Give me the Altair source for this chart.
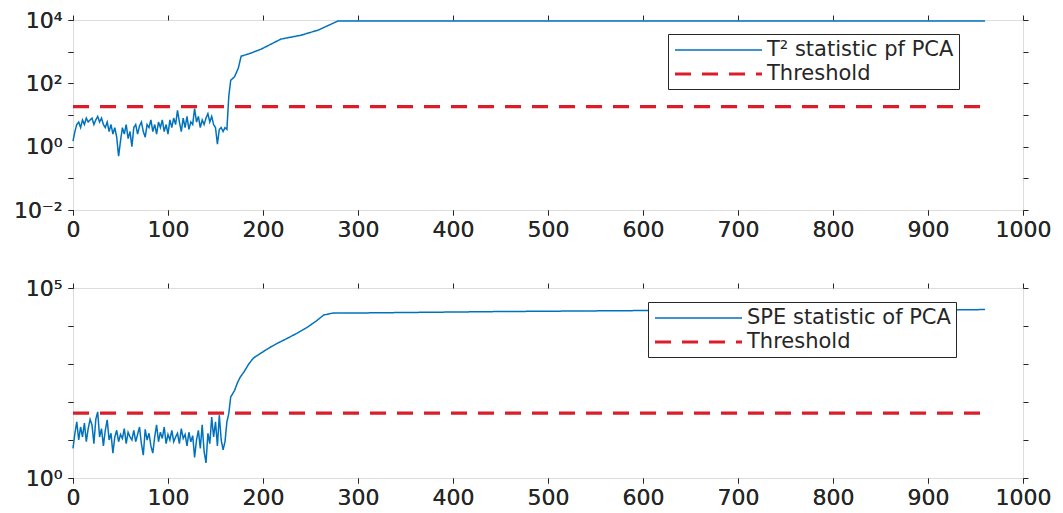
import altair as alt
import pandas as pd

# ---------------- data ----------------
noise_x = list(range(0, 164, 2))

t2_noise = [1.5, 3, 5, 6, 4, 7, 5, 8, 6, 7,
            8, 5, 7, 9, 6, 8, 5, 4, 6, 3,
            5, 2.5, 4, 2, 0.5, 1.5, 4, 2.5, 5, 1.8,
            3, 1, 4, 5, 2.5, 4.5, 6, 3, 2, 5,
            4, 7, 3, 5, 2.5, 6, 4, 7, 3, 5,
            2.5, 7, 4, 8, 5, 14, 6, 3, 8, 4,
            9, 3.5, 6, 5, 16, 6, 9, 4, 7, 5,
            8, 11, 6, 9, 5, 4, 1.2, 3.5, 4, 3,
            4, 3.5]
t2_tail_x = [164, 166, 170, 174, 177, 185, 198, 219, 240, 258, 279, 960]
t2_tail_y = [39, 125, 160, 300, 720, 850, 1200, 2500, 3300, 4800, 9300, 9300]
t2_threshold = 18.5

spe_noise = [6, 15, 30, 10, 22, 12, 28, 9, 20, 35,
             25, 8, 35, 55, 12, 20, 7, 18, 34, 10,
             15, 4.5, 12, 18, 9, 14, 11, 20, 8, 16,
             12, 10, 18, 9, 14, 22, 8, 4, 19, 10,
             15, 7, 4.5, 12, 25, 9, 16, 11, 22, 8,
             14, 10, 18, 9, 12, 15, 8, 20, 11, 14,
             7, 16, 9, 13, 3.5, 10, 18, 6, 25, 5,
             2.5, 15, 8, 40, 12, 30, 7, 45, 10, 5.5,
             9, 30]
spe_tail_x = [164, 166, 170, 173, 176, 180, 185, 190, 200, 208, 217, 226,
              236, 247, 256, 264, 274, 300, 450, 600, 960]
spe_tail_y = [50, 135, 200, 316, 450, 620, 1000, 1440, 2100, 2800, 3700, 4800,
              6500, 9400, 13500, 19500, 22000, 22000, 24000, 25500, 27000]
spe_threshold = 51

threshold_x = [0, 960]
x_ticks = [0, 100, 200, 300, 400, 500, 600, 700, 800, 900, 1000]

BLUE = "#0072BD"
RED = "#dc1c28"
FONT = "DejaVu Sans"
TXT = "#262626"


def make_df(name, xs, ys, thr):
    rows = [{"series": name, "x": a, "y": b} for a, b in zip(xs, ys)]
    rows += [{"series": "Threshold", "x": a, "y": thr} for a in threshold_x]
    return pd.DataFrame(rows)


def panel(name, xs, ys, thr, ydomain, yticks, label_expr, lx, ly):
    df = make_df(name, xs, ys, thr)
    xscale = alt.Scale(domain=[0, 1000], nice=False)
    yscale = alt.Scale(type="log", domain=ydomain, nice=False)
    legend = alt.Legend(
        title=None, orient="none", legendX=lx, legendY=ly,
        strokeColor=TXT, fillColor="white", padding=5,
        labelFont=FONT, labelFontSize=21, labelColor=TXT, labelLimit=500,
        symbolSize=400, symbolType="M-1,0L7.7,0", rowPadding=2,
        labelOffset=70,
    )
    color = alt.Color("series:N", scale=alt.Scale(domain=[name, "Threshold"], range=[BLUE, RED]), legend=legend)
    dash = alt.StrokeDash("series:N", scale=alt.Scale(domain=[name, "Threshold"], range=[[1, 0], [16, 11]]), legend=legend)
    sw = alt.StrokeWidth("series:N", scale=alt.Scale(domain=[name, "Threshold"], range=[1.5, 3.2]), legend=legend)

    xa = alt.Axis(values=x_ticks, orient="bottom", tickSize=5, labelPadding=4, grid=False, format="d",
                  domain=False, labelFont=FONT, labelFontSize=22, labelColor=TXT, tickColor=TXT,
                  title=None, labelFlush=False)
    ya = alt.Axis(values=yticks, orient="left", tickSize=5, labelPadding=6, grid=False,
                  domain=False, labelFont=FONT, labelFontSize=22, labelColor=TXT, tickColor=TXT,
                  title=None, labelExpr=label_expr, labelFlush=False)

    base = alt.Chart(df)
    stat = base.transform_filter(alt.datum.series == name).mark_line().encode(
        x=alt.X("x:Q", scale=xscale, axis=xa),
        y=alt.Y("y:Q", scale=yscale, axis=ya),
        color=color, strokeDash=dash, strokeWidth=sw,
        order="x:Q",
    )
    thr_line = base.transform_filter(alt.datum.series == "Threshold").mark_line().encode(
        x=alt.X("x:Q", scale=xscale, axis=xa),
        y=alt.Y("y:Q", scale=yscale, axis=ya),
        color=color, strokeDash=dash, strokeWidth=sw,
    )
    mirror = base.mark_line(opacity=0).encode(
        x=alt.X("x:Q", scale=xscale, axis=alt.Axis(values=x_ticks, orient="top", labels=False, tickSize=5,
                                                    domain=False, grid=False, title=None, tickColor=TXT)),
        y=alt.Y("y:Q", scale=yscale, axis=alt.Axis(values=yticks, orient="right", labels=False, tickSize=5,
                                                    domain=False, grid=False, title=None, tickColor=TXT)),
    )
    return alt.layer(stat, thr_line, mirror).resolve_axis(x="independent", y="independent").properties(
        width=950, height=190)


top_label = ("round(log(datum.value)/LN10) == 4 ? '10⁴' : round(log(datum.value)/LN10) == 2 ? '10²' : "
             "round(log(datum.value)/LN10) == 0 ? '10⁰' : round(log(datum.value)/LN10) == -2 ? '10⁻²' : ''")
bot_label = ("round(log(datum.value)/LN10) == 5 ? '10⁵' : round(log(datum.value)/LN10) == 0 ? '10⁰' : ''")

top = panel("T² statistic pf PCA", noise_x + t2_tail_x, t2_noise + t2_tail_y, t2_threshold,
            [0.01, 10000], [0.01, 0.1, 1, 10, 100, 1000, 10000], top_label, 595, 14)
bottom = panel("SPE statistic of PCA", noise_x + spe_tail_x, spe_noise + spe_tail_y, spe_threshold,
               [1, 100000], [1, 10, 100, 1000, 10000, 100000], bot_label, 575, 14)

chart = alt.vconcat(top, bottom, spacing=35).resolve_scale(
    color="independent", strokeDash="independent", strokeWidth="independent"
).properties(
    padding={"left": 5, "top": 0, "right": 0, "bottom": 0}
).configure_view(stroke=TXT, strokeWidth=1).configure(background="white")

chart.save("out.html", embed_options={"renderer": "svg", "actions": False})
